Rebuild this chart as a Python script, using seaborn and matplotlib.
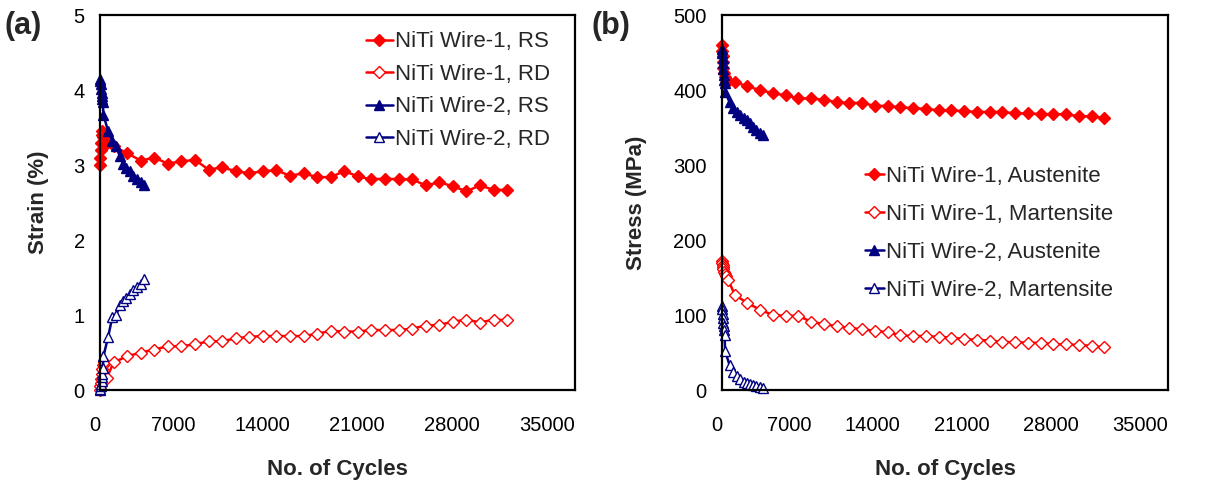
import numpy as np
import pandas as pd
import matplotlib
matplotlib.use("Agg")
import matplotlib.pyplot as plt
import seaborn as sns

# Cycle counts (start-up cluster + regular sampling)
cycles_w1 = [1, 20, 50, 80, 120, 160, 200, 300, 500] + list(range(1000, 30001, 1000))
cycles_w2 = [1, 20, 50, 80, 110, 140, 170, 200,
             250, 600, 900, 1200, 1450, 1700, 1950, 2200, 2450, 2700, 3000, 3250]

# (a) strain, %
w1_rs = [3.00, 3.10, 3.20, 3.30, 3.40, 3.45, 3.38, 3.32, 3.30,
         3.25, 3.16, 3.06, 3.10, 3.02, 3.05, 3.07, 2.94, 2.97, 2.92,
         2.89, 2.92, 2.93, 2.86, 2.89, 2.84, 2.84, 2.92, 2.85, 2.81,
         2.82, 2.81, 2.81, 2.73, 2.77, 2.72, 2.65, 2.73, 2.67, 2.67]
w1_rd = [0.00, 0.05, 0.10, 0.15, 0.22, 0.28, 0.34, 0.37, 0.16,
         0.37, 0.45, 0.50, 0.54, 0.585, 0.585, 0.61, 0.65, 0.65, 0.69,
         0.71, 0.72, 0.72, 0.72, 0.72, 0.75, 0.79, 0.78, 0.78, 0.80,
         0.80, 0.80, 0.82, 0.86, 0.87, 0.91, 0.94, 0.90, 0.94, 0.93]
w2_rs = [4.15, 4.12, 4.08, 4.02, 3.96, 3.92, 3.88, 3.84,
         3.67, 3.45, 3.32, 3.25, 3.12, 3.02, 2.96, 2.92, 2.86, 2.82, 2.78, 2.73]
w2_rd = [0.00, 0.02, 0.05, 0.08, 0.12, 0.17, 0.22, 0.30,
         0.45, 0.71, 0.97, 1.00, 1.13, 1.19, 1.23, 1.28, 1.33, 1.38, 1.42, 1.48]

# (b) stress, MPa
w1_aus = [460, 452, 445, 437, 430, 423, 417, 414, 412,
          411, 405, 400, 396, 393, 389, 389, 387, 384, 383,
          383, 379, 379, 377, 376, 375, 373, 373, 372, 371,
          371, 371, 369, 369, 368, 368, 368, 365, 365, 363]
w1_mar = [172, 170, 167, 164, 161, 158, 155, 152, 147,
          127, 116, 107, 100, 99, 99, 91, 88, 85, 83,
          81, 79, 77, 73, 72, 72, 71, 70, 68, 67,
          66, 64, 64, 63, 63, 61, 61, 60, 59, 57]
w2_aus = [455, 450, 443, 436, 428, 420, 414, 410,
          397, 384, 376, 371, 367, 363, 360, 356, 351, 347, 343, 340]
w2_mar = [112, 108, 102, 96, 90, 85, 80, 74,
          52, 33, 24, 19, 15, 11, 9, 8, 7, 6, 4, 3]

labels_a = ["NiTi Wire-1, RS", "NiTi Wire-1, RD", "NiTi Wire-2, RS", "NiTi Wire-2, RD"]
labels_b = ["NiTi Wire-1, Austenite", "NiTi Wire-1, Martensite",
            "NiTi Wire-2, Austenite", "NiTi Wire-2, Martensite"]

sns.set_theme(style="white")
plt.rcParams['font.family'] = ['Liberation Sans', 'DejaVu Sans']

RED = '#FF0000'
NAVY = '#000080'
styles = [
    dict(color=RED, marker='D', markersize=6.5, markerfacecolor=RED, markeredgecolor=RED),
    dict(color=RED, marker='D', markersize=6.5, markerfacecolor='white', markeredgecolor=RED),
    dict(color=NAVY, marker='^', markersize=7.5, markerfacecolor=NAVY, markeredgecolor=NAVY),
    dict(color=NAVY, marker='^', markersize=7.5, markerfacecolor='white', markeredgecolor=NAVY),
]

fig = plt.figure(figsize=(12.14, 4.90), dpi=100)
ax1 = fig.add_axes([0.0824, 0.204, 0.3912, 0.765])
ax2 = fig.add_axes([0.5947, 0.204, 0.3674, 0.765])


def draw(ax, xs, ys, labels):
    for x, y, lab, st in zip(xs, ys, labels, styles):
        sns.lineplot(x=x, y=y, ax=ax, label=lab, sort=False, estimator=None,
                     linewidth=1.8, markeredgewidth=1.0, clip_on=False, **st)


draw(ax1, [cycles_w1, cycles_w1, cycles_w2, cycles_w2],
     [w1_rs, w1_rd, w2_rs, w2_rd], labels_a)
draw(ax2, [cycles_w1, cycles_w1, cycles_w2, cycles_w2],
     [w1_aus, w1_mar, w2_aus, w2_mar], labels_b)

for ax in (ax1, ax2):
    ax.set_xlim(0, 35000)
    ax.set_xticks(np.arange(0, 35001, 7000))
    ax.tick_params(direction='in', length=6, width=1.5, labelsize=14.5,
                   colors='black')
    ax.tick_params(axis='x', pad=19)
    ax.tick_params(axis='y', pad=11)
    for lbl in ax.get_xticklabels():
        lbl.set_horizontalalignment('right')
    for sp in ax.spines.values():
        sp.set_color('black')
        sp.set_linewidth(1.6)
    ax.set_xlabel('No. of Cycles', fontsize=16, fontweight='bold', labelpad=17)

ax1.set_ylim(0, 5)
ax1.set_yticks(range(0, 6))
ax1.set_ylabel('Strain (%)', fontsize=16, fontweight='bold', labelpad=18)
ax2.set_ylim(0, 500)
ax2.set_yticks(range(0, 501, 100))
ax2.set_ylabel('Stress (MPa)', fontsize=16, fontweight='bold', labelpad=19)

ax1.legend(loc='upper left', bbox_to_anchor=(0.56, 0.957), frameon=False,
           fontsize=16, handlelength=1.2, handletextpad=0.1, labelspacing=0.52,
           borderpad=0, borderaxespad=0)
ax2.legend(loc='upper left', bbox_to_anchor=(0.32, 0.599), frameon=False,
           fontsize=16, handlelength=0.85, handletextpad=0.1, labelspacing=0.77,
           borderpad=0, borderaxespad=0)

fig.text(0.004, 0.977, '(a)', fontsize=22, fontweight='bold', va='top')
fig.text(0.487, 0.977, '(b)', fontsize=22, fontweight='bold', va='top')

fig.savefig('out.png', dpi=100)
